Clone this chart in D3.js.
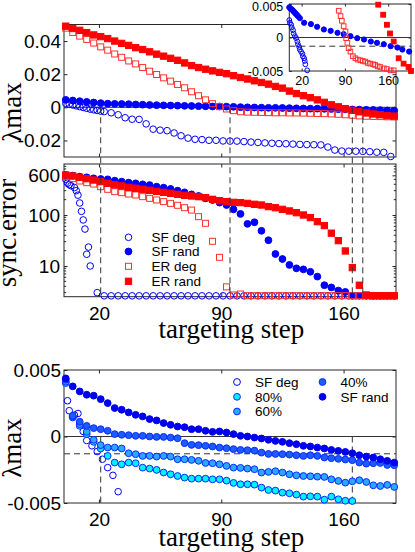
<!DOCTYPE html>
<html><head><meta charset="utf-8">
<script src="https://cdn.jsdelivr.net/npm/d3@7/dist/d3.min.js"></script>
<style>html,body{margin:0;padding:0;background:#fff}svg{display:block}</style>
</head><body>
<svg id="chart" width="415" height="552" xmlns="http://www.w3.org/2000/svg"></svg>
<script>
// ================= DATA =================
const xTicks = [20, 90, 160];
const yTicksTop = [-0.02, 0, 0.02, 0.04];
const yTicksMid = [10, 100, 600];
const yTicksBot = [-0.005, 0, 0.005];
const yTicksInset = [-0.005, 0, 0.005];
const vLinesTopMid = [21, 95, 165, 171];
const vLinesBot = [21, 165];
const hLineLevel = -0.0013;
const floorLevel = 2.62;

// common targeting steps (every 4th step)
const steps = [1,5,9,13,17,21,25,29,33,37,41,45,49,53,57,61,65,69,73,77,81,85,89,93,97,101,105,109,113,117,121,125,129,133,137,141,145,149,153,157,161,165,169,173,177,181,185,189];

// ---- panel 1 : lambda_max ----
const sfDegStepsTop = [1,3,5,7,9,11,13,15,17,19,21,23,27,31,35,39,43,47,51,55,59,63,67,71,75,79,83,87,91,95,99,103,107,111,115,119,123,127,131,135,139,143,147,151,155,159,163,167,171,175,179,183,187];
const sfDegLamTop = [0.0024,0.0019,0.0014,0.0009,0.0004,-0.0001,-0.0006,-0.0011,-0.0015,-0.0019,-0.0023,
 -0.0026,-0.0033,-0.0045,-0.0063,-0.0072,-0.0073,-0.0100,-0.0132,-0.0138,-0.0141,-0.0155,-0.0172,-0.0186,-0.0193,
 -0.0195,-0.0199,-0.0199,-0.0203,-0.0204,-0.0204,-0.0207,-0.0210,-0.0212,-0.0215,-0.0217,-0.0219,-0.0220,-0.0222,
 -0.0224,-0.0225,-0.0226,-0.0227,-0.0240,-0.0258,-0.0264,-0.0265,-0.0265,-0.0266,-0.0268,-0.0271,-0.0272,-0.0297];
const sfRandLamTop = [0.0045,0.0041,0.0037,0.0033,0.0029,0.0025,0.0022,0.0021,0.0020,0.0019,0.0017,0.0016,0.0014,0.0013,0.0012,0.0011,0.0010,0.0009,0.0008,0.0007,0.0006,0.0005,0.0005,0.0004,0.0003,0.0001,0.0000,-0.0001,-0.0002,-0.0003,-0.0003,-0.0004,-0.0005,-0.0006,-0.0007,-0.0008,-0.0008,-0.0009,-0.0010,-0.0011,-0.0012,-0.0013,-0.0014,-0.0015,-0.0016,-0.0017,-0.0019,-0.0020];
const erDegLamTop = [0.0478,0.0452,0.0430,0.0410,0.0388,0.0365,0.0345,0.0322,0.0302,0.0280,0.0262,0.0240,0.0218,0.0198,0.0178,0.0158,0.0138,0.0118,0.0094,0.0070,0.0045,0.0022,0.0004,-0.0010,-0.0020,-0.0027,-0.0029,-0.0030,-0.0031,-0.0032,-0.0033,-0.0033,-0.0034,-0.0034,-0.0035,-0.0036,-0.0037,-0.0038,-0.0040,-0.0042,-0.0045,-0.0048,-0.0052,-0.0054,-0.0055,-0.0056,-0.0057,-0.0058];
const erRandLamTop = [0.0490,0.0476,0.0465,0.0451,0.0437,0.0427,0.0415,0.0400,0.0386,0.0374,0.0360,0.0349,0.0335,0.0321,0.0309,0.0296,0.0284,0.0268,0.0252,0.0240,0.0230,0.0220,0.0211,0.0203,0.0191,0.0180,0.0171,0.0160,0.0150,0.0140,0.0126,0.0116,0.0098,0.0083,0.0070,0.0058,0.0045,0.0030,0.0015,0.0003,-0.0008,-0.0018,-0.0027,-0.0034,-0.0040,-0.0045,-0.0050,-0.0053];

// ---- inset (zoom of panel 1) ----
const inSfDegSteps = [0,1,3,4,6,7,9,11,13,14,16,17,19,21,22,24,25,26,29];
const inSfDegLam = [0.0026,0.0022,0.0019,0.0015,0.0011,0.0006,0.0002,-0.0001,-0.0006,-0.0010,-0.0014,-0.0018,-0.0021,-0.0024,-0.0028,-0.0031,-0.0035,-0.0040,-0.0049];
const inSfRandSteps = [0,2,4,6,8,10,12,14,17,24,35,45,56,67,78,88,99,110,121,132,142,153,164,175,183,194];
const inSfRandLam = [0.0045,0.0043,0.0042,0.0040,0.0038,0.0036,0.0034,0.0032,0.0029,0.0022,0.0020,0.0016,0.0012,0.0010,0.0007,0.0005,0.0002,-0.0001,-0.0003,-0.0006,-0.0008,-0.0010,-0.0013,-0.0015,-0.0018,-0.0021];
const inErDegSteps = [80,83,85,88,91,92,94,96,99,103,107,111,115,119,123,127,131,136,139,143,147,153,158,164,169];
const inErDegLam = [0.0040,0.0032,0.0025,0.0017,0.0009,-0.0001,-0.0008,-0.0016,-0.0021,-0.0028,-0.0031,-0.0033,-0.0034,-0.0035,-0.0036,-0.0038,-0.0039,-0.0040,-0.0041,-0.0043,-0.0044,-0.0046,-0.0047,-0.0049,-0.0049];
const inErRandSteps = [144,152,158,163,169,177,185,193,197];
const inErRandLam = [0.0049,0.0034,0.0019,0.0006,-0.0006,-0.0031,-0.0039,-0.0044,-0.0050];

// ---- panel 2 : sync. error ----
const sfDegStepsMid = [1,2,3,4,6,7,8,9,10,11,12,14,13,15,19,23,27,31,35,39,43,47,51,55,59,63,67,71,75,79,83,87,91,95,99,103,107,111,115,119,123,127,131,135,139,143,147,151,155,159,163,167,171,175,179,183,187];
const sfDegErr = [500,420,395,375,345,300,245,172,118,80,53,23.5,17,10,3.0,
 2.6,2.6,2.6,2.6,2.6,2.6,2.6,2.6,2.6,2.6,2.6,2.6,2.6,2.6,2.6,2.6,2.6,2.6,2.6,2.6,2.6,2.6,2.6,2.6,2.6,2.6,2.6,2.6,2.6,2.6,2.6,2.6,2.6,2.6,2.6,2.6,2.6,2.6,2.6,2.6,2.6,2.6];
const sfRandErr = [608,590,564,548,524,508,500,471,451,431,418,399,387,359,344,324,300,278,254,236,212,197,175,157,129,105,67,72,49,32,17.2,13.7,10.5,9.0,8.6,7.7,6.2,4.2,3.8,3.3,3.1,2.6,2.6,2.6,2.6,2.6,2.6,2.6];
const erDegErr = [564,516,464,431,405,359,319,287,274,258,247,229,212,197,183,169,155,139,125,92.7,68.7,30.5,14.8,3.9,2.70,2.82,2.62,2.62,2.62,2.62,2.62,2.62,2.62,2.62,2.62,2.62,2.62,2.62,2.62,2.62,2.62,2.62,2.62,2.62,2.62,2.62,2.62,2.62];
const erRandErr = [608,582,548,516,485,451,418,393,371,349,334,319,305,291,278,266,254,243,236,229,219,203,191,183,177,175,169,162,157,146,139,129,120,111,100,89,74,62,44,31.4,19.7,9.3,4.2,2.70,2.6,2.6,2.6,2.6];

// ---- panel 3 : lambda_max, partial targeting ----
const sfDegStepsBot = [2,3,6,8,11,13,16,19,22,25,28,31];
const sfDegLamBot = [0.00269,0.00194,0.00161,0.00173,0.00038,-0.0003,-0.0007,-0.00113,-0.00171,-0.00234,-0.00292,-0.00415];
const p80Lam = [0.00402,0.00143,0.00080,0.00018,-0.00040,-0.00090,-0.00146,-0.00196,-0.00209,-0.00196,-0.00201,-0.00234,-0.00241,-0.00251,-0.00271,-0.00284,-0.00297,-0.00309,-0.00317,-0.00317,-0.00317,-0.00322,-0.00322,-0.00332,-0.00349,-0.00359,-0.00359,-0.00362,-0.00384,-0.00402,-0.00407,-0.00422,-0.00427,-0.00437,-0.00452,-0.00450,-0.00452,-0.00475,-0.00452,-0.00472,-0.00483,-0.00485];
const p60Lam = [0.00412,0.00151,0.00093,0.00035,-0.00025,-0.00065,-0.00083,-0.00083,-0.00090,-0.00126,-0.00133,-0.00146,-0.00146,-0.00151,-0.00146,-0.00151,-0.00171,-0.00171,-0.00176,-0.00183,-0.00199,-0.00201,-0.00209,-0.00221,-0.00234,-0.00236,-0.00241,-0.00246,-0.00271,-0.00266,-0.00261,-0.00271,-0.00284,-0.00292,-0.00297,-0.00299,-0.00302,-0.00304,-0.00322,-0.00334,-0.00347,-0.00337,-0.00329,-0.00342,-0.00367,-0.00372,-0.00364,-0.00379];
const p40Lam = [0.00427,0.00156,0.00111,0.00080,0.00063,0.00055,0.00043,0.00018,0.00013,0.00010,0.00005,0.00005,0.0,-0.00003,-0.00003,-0.00008,-0.00013,-0.00050,-0.00063,-0.00065,-0.00070,-0.00075,-0.00083,-0.00088,-0.00095,-0.00101,-0.00103,-0.00106,-0.00121,-0.00131,-0.00131,-0.00133,-0.00136,-0.00141,-0.00146,-0.00141,-0.00146,-0.00158,-0.00163,-0.00168,-0.00173,-0.00178,-0.00196,-0.00204,-0.00201,-0.00199,-0.00214,-0.00216];
const sfRandLamBot = [0.00437,0.00377,0.00339,0.00314,0.00307,0.00281,0.00251,0.00214,0.00201,0.00181,0.00163,0.00151,0.00131,0.00121,0.00101,0.00088,0.00075,0.00070,0.00055,0.00055,0.00043,0.00035,0.00038,0.00030,0.00018,0.00005,0.0,-0.00008,-0.00015,-0.00025,-0.00033,-0.00040,-0.00050,-0.00058,-0.00070,-0.00075,-0.00083,-0.00090,-0.00101,-0.00108,-0.00116,-0.00126,-0.00141,-0.00151,-0.00158,-0.00171,-0.00183,-0.00196];

const legendMid = ["SF deg", "SF rand", "ER deg", "ER rand"];
const legendBot = ["SF deg", "80%", "60%", "40%", "SF rand"];

// ================= DRAWING =================
const SANS = '"Liberation Sans", Arial, Helvetica, sans-serif';
const SERIF = '"Liberation Serif", "Times New Roman", serif';
const AX = '#262626';
const BLUE = '#0000ff', RED = '#ff0000', RED_OPEN = '#ff3030';
const C80 = '#00f0ff', C60 = '#2aa8ff', C40 = '#1c5cff', CSR = '#0000ee', EDGE = '#0a2cff';

const svg = d3.select('#chart');
svg.append('rect').attr('width', 415).attr('height', 552).attr('fill', '#fff');

const X = d3.scaleLinear().domain([0, 190]).range([64, 396]);
const Y1 = d3.scaleLinear().domain([-0.03, 0.05]).range([157, 24.5]);
const Y2 = d3.scaleLog().domain([2.5, 1000]).range([296.7, 164]);
const Y3 = d3.scaleLinear().domain([-0.005, 0.005]).range([503, 370]);
const XI = d3.scaleLinear().domain([0, 197]).range([289.3, 411]);
const YI = d3.scaleLinear().domain([-0.005, 0.005]).range([71, 4]);

function frame(Xs, Ys, o) {
  const g = svg.append('g');
  const [x0, x1] = Xs.range(); const [yb, yt] = Ys.range();
  if (o.bg) g.append('rect').attr('x', x0).attr('y', yt).attr('width', x1 - x0).attr('height', yb - yt).attr('fill', '#fff');
  const tl = o.tl;
  const bot = d3.axisBottom(Xs).tickValues(xTicks).tickSize(-tl).tickSizeOuter(0).tickPadding(o.xpad || 0)
    .tickFormat(o.xlab ? d3.format('d') : () => '');
  const top = d3.axisTop(Xs).tickValues(xTicks).tickSize(-tl).tickSizeOuter(0).tickFormat(() => '');
  const left = d3.axisLeft(Ys).tickValues(o.yTicks).tickSize(-tl).tickSizeOuter(0).tickPadding(o.ypad).tickFormat(o.yfmt);
  const right = d3.axisRight(Ys).tickValues(o.yTicks).tickSize(-tl).tickSizeOuter(0).tickFormat(() => '');
  const parts = [
    g.append('g').attr('transform', `translate(0,${yb})`).call(bot),
    g.append('g').attr('transform', `translate(0,${yt})`).call(top),
    g.append('g').attr('class', 'yl').attr('transform', `translate(${x0},0)`).call(left),
    g.append('g').attr('transform', `translate(${x1},0)`).call(right)
  ];
  parts.forEach(p => {
    p.select('.domain').remove();
    p.selectAll('line').attr('stroke', AX).attr('stroke-width', 1);
    p.selectAll('text').attr('fill', '#000').style('font-family', SANS).style('font-size', o.fs + 'px');
  });
  if (o.minor) {
    o.minor.forEach(v => {
      g.append('line').attr('x1', x0).attr('x2', x0 + o.mtl).attr('y1', Ys(v)).attr('y2', Ys(v)).attr('stroke', AX);
      g.append('line').attr('x1', x1).attr('x2', x1 - o.mtl).attr('y1', Ys(v)).attr('y2', Ys(v)).attr('stroke', AX);
    });
  }
  g.append('rect').attr('x', x0).attr('y', yt).attr('width', x1 - x0).attr('height', yb - yt)
    .attr('fill', 'none').attr('stroke', AX).attr('stroke-width', 1);
  return g;
}

function circles(g, xs, ys, Xs, Ys, r, fill, stroke) {
  g.append('g').selectAll('circle').data(d3.zip(xs, ys)).join('circle')
    .attr('cx', d => Xs(d[0])).attr('cy', d => Ys(d[1])).attr('r', r)
    .attr('fill', fill).attr('stroke', stroke).attr('stroke-width', 1);
}
function squares(g, xs, ys, Xs, Ys, s, fill, stroke) {
  g.append('g').selectAll('rect').data(d3.zip(xs, ys)).join('rect')
    .attr('x', d => Xs(d[0]) - s / 2).attr('y', d => Ys(d[1]) - s / 2).attr('width', s).attr('height', s)
    .attr('fill', fill).attr('stroke', stroke).attr('stroke-width', 1);
}
function dashed(x1, y1, x2, y2) {
  svg.append('line').attr('x1', x1).attr('y1', y1).attr('x2', x2).attr('y2', y2)
    .attr('stroke', '#333').attr('stroke-width', 1).attr('stroke-dasharray', '6,4');
}
function solid(x1, y1, x2, y2) {
  svg.append('line').attr('x1', x1).attr('y1', y1).attr('x2', x2).attr('y2', y2)
    .attr('stroke', '#333').attr('stroke-width', 1);
}
function ylabel(txt, x, y, fs) {
  svg.append('text').attr('transform', `translate(${x},${y}) rotate(-90)`).attr('text-anchor', 'middle')
    .style('font-family', SERIF).style('font-size', fs + 'px').attr('fill', '#000').text(txt);
}
function xlabel(txt, x, y, fs) {
  svg.append('text').attr('x', x).attr('y', y).attr('text-anchor', 'middle')
    .style('font-family', SERIF).style('font-size', fs + 'px').attr('fill', '#000').text(txt);
}

const fmtLam = d => d === 0 ? '0' : d3.format('.2f')(d).replace('−', '-');
const fmtLam3 = d => d === 0 ? '0' : d3.format('.3f')(d).replace('−', '-');
const minorLog = [3,4,5,6,7,8,9,20,30,40,50,60,70,80,90,200,300,400,500,700,800,900];

// ---------- panel 1 ----------
frame(X, Y1, { yTicks: yTicksTop, yfmt: fmtLam, tl: 3.5, ypad: 3, fs: 19, xlab: false });
solid(X.range()[0], Y1(0), X.range()[1], Y1(0));
const g1 = svg.append('g');
circles(g1, sfDegStepsTop, sfDegLamTop, X, Y1, 3.3, 'none', BLUE);
circles(g1, steps, sfRandLamTop, X, Y1, 3.4, BLUE, BLUE);
squares(g1, steps, erDegLamTop, X, Y1, 6, 'none', RED_OPEN);
squares(g1, steps, erRandLamTop, X, Y1, 6.3, RED, RED);

// ---------- panel 2 ----------
frame(X, Y2, { yTicks: yTicksMid, yfmt: d3.format('d'), tl: 3.5, ypad: 4, fs: 19, xlab: true, xpad: 9.5, minor: minorLog, mtl: 2.2 });
const g2 = svg.append('g');
circles(g2, sfDegStepsMid, sfDegErr, X, Y2, 3.3, 'none', BLUE);
circles(g2, steps, sfRandErr, X, Y2, 3.4, BLUE, BLUE);
squares(g2, steps, erDegErr, X, Y2, 6, 'none', RED_OPEN);
squares(g2, steps, erRandErr, X, Y2, 6.3, RED, RED);

// dashed verticals across panel 1 and 2
vLinesTopMid.forEach(s => dashed(X(s), Y1(0), X(s), Y2(floorLevel)));

// legend panel 2
const lg2 = svg.append('g');
const lg2Rows = [237.3, 251.5, 266.3, 281.3];
legendMid.forEach((t, i) => {
  const yy = lg2Rows[i], xm = 128.5;
  if (i === 0) lg2.append('circle').attr('cx', xm).attr('cy', yy).attr('r', 3.3).attr('fill', 'none').attr('stroke', BLUE);
  if (i === 1) lg2.append('circle').attr('cx', xm).attr('cy', yy).attr('r', 3.4).attr('fill', BLUE).attr('stroke', BLUE);
  if (i === 2) lg2.append('rect').attr('x', xm - 3).attr('y', yy - 3).attr('width', 6).attr('height', 6).attr('fill', 'none').attr('stroke', RED_OPEN);
  if (i === 3) lg2.append('rect').attr('x', xm - 3.15).attr('y', yy - 3.15).attr('width', 6.3).attr('height', 6.3).attr('fill', RED).attr('stroke', RED);
  lg2.append('text').attr('x', 151.5).attr('y', yy).attr('dy', '0.35em').style('font-family', SANS).style('font-size', '13.5px').text(t);
});

// ---------- inset ----------
const fi = frame(XI, YI, { yTicks: yTicksInset, yfmt: fmtLam3, tl: 2.5, ypad: 6, fs: 12.5, xlab: true, xpad: 5.5, bg: true });
// keep the top inset label inside the picture
fi.select('.yl').selectAll('.tick').filter(d => d === 0.005).select('text').attr('dy', '0.5em');
solid(XI.range()[0], YI(0), XI.range()[1], YI(0));
dashed(XI.range()[0], YI(hLineLevel), XI.range()[1], YI(hLineLevel));
const gi = svg.append('g');
circles(gi, inSfDegSteps, inSfDegLam, XI, YI, 2.4, 'none', BLUE);
circles(gi, inSfRandSteps, inSfRandLam, XI, YI, 2.6, BLUE, BLUE);
squares(gi, inErDegSteps, inErDegLam, XI, YI, 4.6, 'none', RED_OPEN);
squares(gi, inErRandSteps, inErRandLam, XI, YI, 4.8, RED, RED);

// ---------- panel 3 ----------
frame(X, Y3, { yTicks: yTicksBot, yfmt: fmtLam3, tl: 3.5, ypad: 3, fs: 19, xlab: true, xpad: 9.5 });
solid(X.range()[0], Y3(0), X.range()[1], Y3(0));
dashed(X.range()[0], Y3(hLineLevel), X.range()[1], Y3(hLineLevel));
vLinesBot.forEach(s => dashed(X(s), Y3(0), X(s), Y3.range()[0]));
const g3 = svg.append('g');
circles(g3, sfDegStepsBot, sfDegLamBot, X, Y3, 3.3, 'none', BLUE);
circles(g3, steps.slice(0, p80Lam.length), p80Lam, X, Y3, 3.4, C80, EDGE);
circles(g3, steps, p60Lam, X, Y3, 3.4, C60, EDGE);
circles(g3, steps, p40Lam, X, Y3, 3.4, C40, EDGE);
circles(g3, steps, sfRandLamBot, X, Y3, 3.4, CSR, CSR);

// legend panel 3
const lg3 = svg.append('g');
const lg3Pos = [[237, 382], [237, 396.8], [237, 411.5], [322.5, 382], [322.5, 396.8]];
const lg3Sty = [['none', BLUE], [C80, EDGE], [C60, EDGE], [C40, EDGE], [CSR, CSR]];
legendBot.forEach((t, i) => {
  const [xm, yy] = lg3Pos[i];
  lg3.append('circle').attr('cx', xm).attr('cy', yy).attr('r', 3.4).attr('fill', lg3Sty[i][0]).attr('stroke', lg3Sty[i][1]);
  lg3.append('text').attr('x', xm + 18).attr('y', yy).attr('dy', '0.35em').style('font-family', SANS).style('font-size', '13.5px').text(t);
});

// ---------- axis titles ----------
ylabel('λmax', 21, 112, 27);
ylabel('sync.error', 16, 233, 27);
ylabel('λmax', 21, 448, 27);
xlabel('targeting step', 231.3, 337.5, 27);
xlabel('targeting step', 231.3, 546, 27);
</script>
</body></html>
